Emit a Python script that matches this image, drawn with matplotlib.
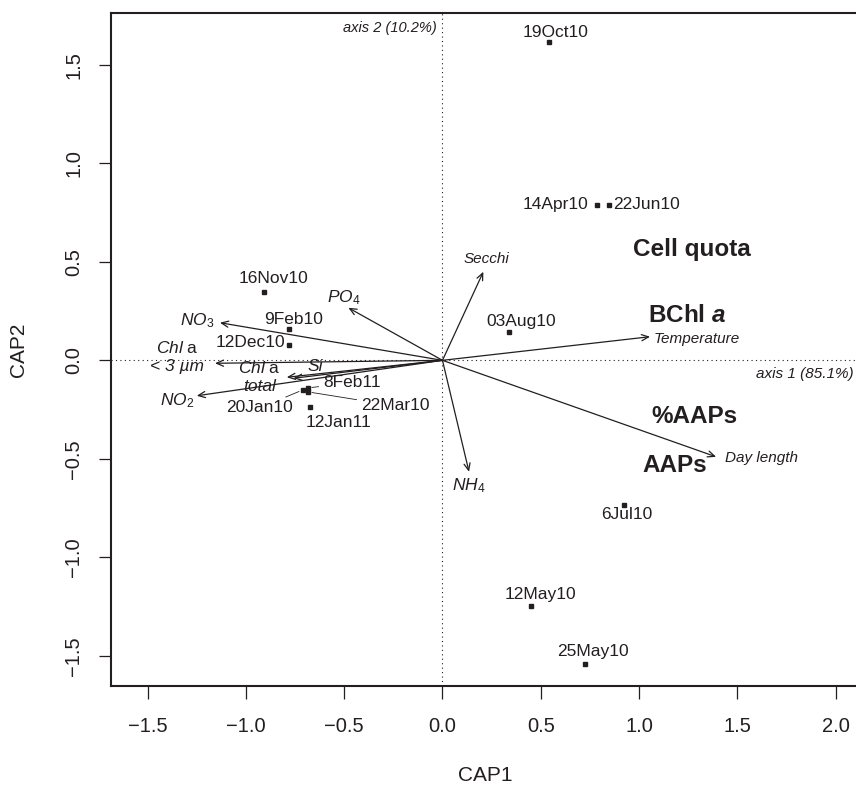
import numpy as np
import matplotlib
matplotlib.use("Agg")
import matplotlib.pyplot as plt

plt.rcParams['font.family'] = ['Liberation Sans', 'DejaVu Sans']
plt.rcParams['mathtext.fontset'] = 'custom'
plt.rcParams['mathtext.rm'] = 'Liberation Sans'
plt.rcParams['mathtext.it'] = 'Liberation Sans:italic'
plt.rcParams['mathtext.bf'] = 'Liberation Sans:bold'
plt.rcParams['mathtext.bfit'] = 'Liberation Sans:italic:bold'

INK = '#231f20'

# --- sampling dates (site scores) ---
site_names = ['19Oct10', '14Apr10', '22Jun10', '16Nov10', '9Feb10', '12Dec10',
              '03Aug10', '8Feb11', '20Jan10', '22Mar10', '12Jan11', '6Jul10',
              '12May10', '25May10']
site_x = [0.542, 0.788, 0.846, -0.907, -0.780, -0.780,
          0.339, -0.685, -0.710, -0.685, -0.673, 0.923,
          0.451, 0.725]
site_y = [1.615, 0.789, 0.789, 0.347, 0.160, 0.078,
          0.144, -0.140, -0.150, -0.160, -0.236, -0.733,
          -1.246, -1.541]

# --- environmental vectors ---
env_names = ['Secchi', 'Temperature', 'Day length', r'$\mathit{NH_4}$', r'$\mathit{PO_4}$',
             r'$\mathit{NO_3}$', '$\\mathit{Chl}$ a\n< 3 µm', '$\\mathit{Chl}$ a\ntotal',
             'Si', r'$\mathit{NO_2}$']
env_x = [0.208, 1.056, 1.392, 0.135, -0.479, -1.132, -1.157, -0.792, -0.758, -1.250]
env_y = [0.450, 0.120, -0.490, -0.566, 0.267, 0.191, -0.015, -0.086, -0.091, -0.180]

# --- response variables ---
resp_names = ['Cell quota', r'BChl $\mathbfit{a}$', '%AAPs', 'AAPs']
resp_x = [1.268, 1.243, 1.280, 1.183]
resp_y = [0.564, 0.230, -0.286, -0.532]

# label placement (pixels from the point), alignment, leader line
site_lab = {
    '19Oct10': (7, 10, 'center', False), '14Apr10': (-9, 0, 'right', False),
    '22Jun10': (4, 0, 'left', False), '16Nov10': (9, 14, 'center', False),
    '9Feb10': (4, 9, 'center', False), '12Dec10': (-4, 2, 'right', False),
    '03Aug10': (12, 10, 'center', False), '8Feb11': (15, 5, 'left', True),
    '20Jan10': (-43, -18, 'center', True), '22Mar10': (53, -14, 'left', True),
    '12Jan11': (28, -16, 'center', False), '6Jul10': (3, -10, 'center', False),
    '12May10': (9, 11, 'center', False), '25May10': (8, 12, 'center', False),
}
env_lab = [(3, 13, 'center', 11), (4, -2, 'left', 11), (9, -1, 'left', 11),
           (0, -14, 'center', 12.5), (-5, 10, 'center', 12.5), (-23, 2, 'center', 12.5),
           (-38, 6, 'center', 12.5), (-27, 0, 'center', 12.5), (22, 12, 'center', 12.5),
           (-20, -5, 'center', 12.5)]

fig = plt.figure(figsize=(8.56, 7.87), dpi=100)
ax = fig.add_axes([0.1297, 0.1283, 0.875, 0.8552])
ax.set_xlim(-1.686, 2.124)
ax.set_ylim(-1.654, 1.764)

ax.axhline(0, color=INK, lw=0.8, ls=(0, (1, 3)))
ax.axvline(0, color=INK, lw=0.8, ls=(0, (1, 3)))

# arrows
for nm, x, y, (dx, dy, ha, fs) in zip(env_names, env_x, env_y, env_lab):
    ax.annotate('', xy=(x, y), xytext=(0, 0),
                arrowprops=dict(arrowstyle='->,head_length=0.5,head_width=0.22',
                                lw=0.9, color=INK, shrinkA=0, shrinkB=0))
    if '\n' in nm:
        # two-line Chl a labels: "Chl" italic, "a" upright, second line italic
        top, bottom = nm.split('\n')
        ax.annotate(top, xy=(x, y), xytext=(dx, dy + 9), textcoords='offset pixels',
                    ha=ha, va='center', fontsize=fs, color=INK)
        ax.annotate(bottom, xy=(x, y), xytext=(dx, dy - 9), textcoords='offset pixels',
                    ha=ha, va='center', fontsize=fs, style='italic', color=INK)
    else:
        ax.annotate(nm, xy=(x, y), xytext=(dx, dy), textcoords='offset pixels',
                    ha=ha, va='center', fontsize=fs, style='italic', color=INK)

# sites
ax.plot(site_x, site_y, 's', color=INK, markersize=3, linestyle='none')
for nm, x, y in zip(site_names, site_x, site_y):
    dx, dy, ha, leader = site_lab[nm]
    ap = dict(arrowstyle='-', lw=0.6, color=INK, shrinkA=1, shrinkB=3) if leader else None
    ax.annotate(nm, xy=(x, y), xytext=(dx, dy), textcoords='offset pixels',
                ha=ha, va='center', fontsize=12.5, color=INK, arrowprops=ap)

for nm, x, y in zip(resp_names, resp_x, resp_y):
    ax.text(x, y, nm, ha='center', va='center', fontsize=17.5,
            fontweight='bold', color=INK)

ax.text(-0.03, 1.69, 'axis 2 (10.2%)', ha='right', va='center',
        fontsize=10.5, style='italic', color=INK)
ax.text(2.09, -0.07, 'axis 1 (85.1%)', ha='right', va='center',
        fontsize=11, style='italic', color=INK)

ax.set_xticks([-1.5, -1.0, -0.5, 0.0, 0.5, 1.0, 1.5, 2.0])
ax.set_yticks([-1.5, -1.0, -0.5, 0.0, 0.5, 1.0, 1.5])
ax.set_xticklabels(['\u22121.5', '\u22121.0', '\u22120.5', '0.0', '0.5', '1.0', '1.5', '2.0'])
ax.set_yticklabels(['\u22121.5', '\u22121.0', '\u22120.5', '0.0', '0.5', '1.0', '1.5'],
                   rotation=90, va='center')
ax.tick_params(direction='out', length=9, width=0.9, labelsize=14.5,
               colors=INK, pad=13)
ax.tick_params(axis='y', pad=11)
for s in ['left', 'bottom', 'top']:
    ax.spines[s].set_linewidth(1.5)
    ax.spines[s].set_color(INK)
ax.spines['right'].set_visible(False)

ax.set_xlabel('CAP1', fontsize=15, color=INK, labelpad=22)
ax.set_ylabel('CAP2', fontsize=15, color=INK, labelpad=26)

fig.savefig('out.png', dpi=100)
